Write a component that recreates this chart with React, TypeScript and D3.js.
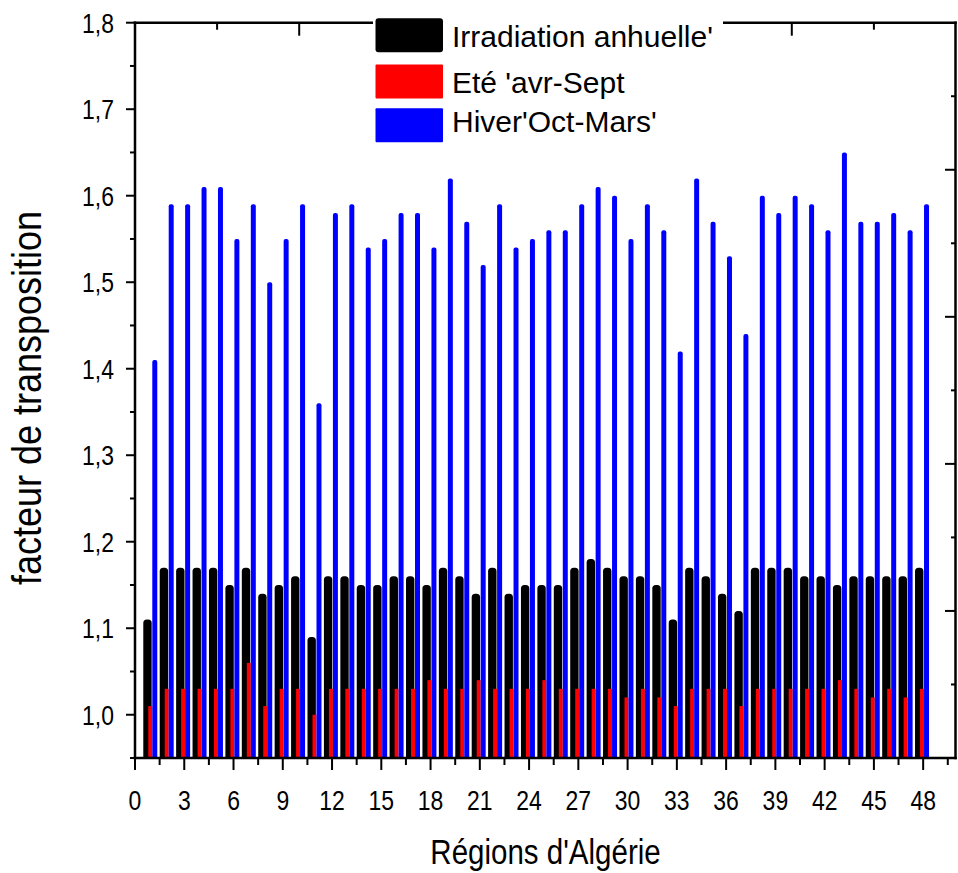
import React from 'react';
import * as d3 from 'd3';

const regions = [1,2,3,4,5,6,7,8,9,10,11,12,13,14,15,16,17,18,19,20,21,22,23,24,25,26,27,28,29,30,31,32,33,34,35,36,37,38,39,40,41,42,43,44,45,46,47,48];
const annual = [1.11,1.17,1.17,1.17,1.17,1.15,1.17,1.14,1.15,1.16,1.09,1.16,1.16,1.15,1.15,1.16,1.16,1.15,1.17,1.16,1.14,1.17,1.14,1.15,1.15,1.15,1.17,1.18,1.17,1.16,1.16,1.15,1.11,1.17,1.16,1.14,1.12,1.17,1.17,1.17,1.16,1.16,1.15,1.16,1.16,1.16,1.16,1.17];
const summer = [1.01,1.03,1.03,1.03,1.03,1.03,1.06,1.01,1.03,1.03,1.00,1.03,1.03,1.03,1.03,1.03,1.03,1.04,1.03,1.03,1.04,1.03,1.03,1.03,1.04,1.03,1.03,1.03,1.03,1.02,1.03,1.02,1.01,1.03,1.03,1.03,1.01,1.03,1.03,1.03,1.03,1.03,1.04,1.03,1.02,1.03,1.02,1.03];
const winter = [1.41,1.59,1.59,1.61,1.61,1.55,1.59,1.50,1.55,1.59,1.36,1.58,1.59,1.54,1.55,1.58,1.58,1.54,1.62,1.57,1.52,1.59,1.54,1.55,1.56,1.56,1.59,1.61,1.60,1.55,1.59,1.56,1.42,1.62,1.57,1.53,1.44,1.60,1.58,1.60,1.59,1.56,1.65,1.57,1.57,1.58,1.56,1.59];
const xTickValues = [0,3,6,9,12,15,18,21,24,27,30,33,36,39,42,45,48];
const yTickValues = [1.0,1.1,1.2,1.3,1.4,1.5,1.6,1.7,1.8];
const legendLabels = ["Irradiation anhuelle'", "Eté 'avr-Sept", "Hiver'Oct-Mars'"];
const seriesColors = ['#000000', '#ff0000', '#0000ff'];

const W = 958, H = 873;
const FONT = "'Liberation Sans', Arial, sans-serif";
const SX = 0.82;

function topRounded(x0: number, x1: number, yTop: number, yBot: number, r: number) {
  const rr = Math.min(r, (x1 - x0) / 2, Math.max(0, yBot - yTop));
  return `M${x0},${yBot}L${x0},${yTop + rr}Q${x0},${yTop} ${x0 + rr},${yTop}L${x1 - rr},${yTop}Q${x1},${yTop} ${x1},${yTop + rr}L${x1},${yBot}Z`;
}

export default function App() {
  const x = d3.scaleLinear().domain([0, 50]).range([135, 956]);
  const y = d3.scaleLinear().domain([0.95, 1.8]).range([758, 22.7]);
  const yr = d3.scaleLinear().domain([0, 10]).range([758, 22.7]);
  const xL = x(0), xR = x(50);
  const yB = y(0.95), yT = y(1.8);

  const yMinor = [0.95, 1.05, 1.15, 1.25, 1.35, 1.45, 1.55, 1.65, 1.75];
  const xMinor = d3.range(1.5, 50, 3);
  const topTicks = [5, 10, 15, 20, 25, 30, 35, 40, 45];
  const rightTicks = [1, 2, 3, 4, 5, 6, 7, 8, 9];

  const lw = 2;
  return (
    <svg width={W} height={H} style={{ position: 'absolute', left: 0, top: 0, background: '#fff' }} fontFamily={FONT}>
      <rect x={0} y={0} width={W} height={H} fill="#fff" />
      <g>
        {regions.map((r, i) => (
          <path key={'a' + r} d={topRounded(x(r - 0.495), x(r + 0.016), y(annual[i]), yB, 3.5)} fill={seriesColors[0]} />
        ))}
        {regions.map((r, i) => (
          <rect key={'s' + r} x={x(r - 0.19)} y={y(summer[i])} width={x(r + 0.053) - x(r - 0.19)} height={yB - y(summer[i])} fill={seriesColors[1]} />
        ))}
        {regions.map((r, i) => (
          <path key={'w' + r} d={topRounded(x(r + 0.053), x(r + 0.357), y(winter[i]), yB, 2)} fill={seriesColors[2]} />
        ))}
      </g>
      <g fontSize={28} fill="#000">
        {yTickValues.map(v => (
          <text key={'yl' + v} transform={`translate(${xL - 21},${y(v) + 10}) scale(${SX},1)`} textAnchor="end">{d3.format('.1f')(v).replace('.', ',')}</text>
        ))}
        {xTickValues.map(v => (
          <text key={'xl' + v} transform={`translate(${x(v)},${810}) scale(${SX},1)`} textAnchor="middle">{v}</text>
        ))}
      </g>
      <text transform={`translate(${(xL + xR) / 2},${864}) scale(${SX},1)`} fontSize={36} textAnchor="middle">Régions d'Algérie</text>
      <text transform={`translate(41,${398}) rotate(-90) scale(0.9,1)`} fontSize={40} textAnchor="middle">facteur de transposition</text>
      <g stroke="#000" fill="none">
        <line x1={xL} x2={xL} y1={yT - 1.25} y2={yB + 1.25} strokeWidth={2.5} />
        <line x1={xR - 0.5} x2={xR - 0.5} y1={yT - 1.25} y2={yB + 1.25} strokeWidth={2.5} />
        <path d={`M${xL - 1.25},${yT}L${xR + 0.75},${yT}`} strokeWidth={2.5} />
        <line x1={xL - 1.25} x2={xR + 0.75} y1={yB} y2={yB} strokeWidth={2.5} />
      </g>
      <g stroke="#000" strokeWidth={lw}>
        {yTickValues.map(v => <line key={'yt' + v} x1={xL - 9} x2={xL} y1={y(v)} y2={y(v)} />)}
        {yMinor.map(v => <line key={'ym' + v} x1={xL - 5} x2={xL} y1={y(v)} y2={y(v)} />)}
        {xTickValues.map(v => <line key={'xt' + v} x1={x(v)} x2={x(v)} y1={yB} y2={yB + 12} />)}
        {xMinor.map(v => <line key={'xm' + v} x1={x(v)} x2={x(v)} y1={yB} y2={yB + 7} />)}
        {topTicks.map(v => <line key={'tt' + v} x1={x(v)} x2={x(v)} y1={yT} y2={yT + (v % 10 === 0 ? 13 : 7)} />)}
        {rightTicks.map(v => <line key={'rt' + v} x1={xR - (v % 2 === 0 ? 11 : 5)} x2={xR} y1={yr(v)} y2={yr(v)} />)}
      </g>
      <g>
        <rect x={373} y={16} width={350} height={128} fill="#fff" />
        {legendLabels.map((lab, i) => {
          const ys = [18.3, 64.5, 108.3][i];
          const bl = [47, 93, 132][i];
          return (
            <g key={lab}>
              <rect x={375.5} y={ys} width={67.5} height={34} rx={i === 0 ? 3 : 1} fill={seriesColors[i]} />
              <text x={452} y={bl} fontSize={30} fill="#000">{lab}</text>
            </g>
          );
        })}
      </g>
    </svg>
  );
}
